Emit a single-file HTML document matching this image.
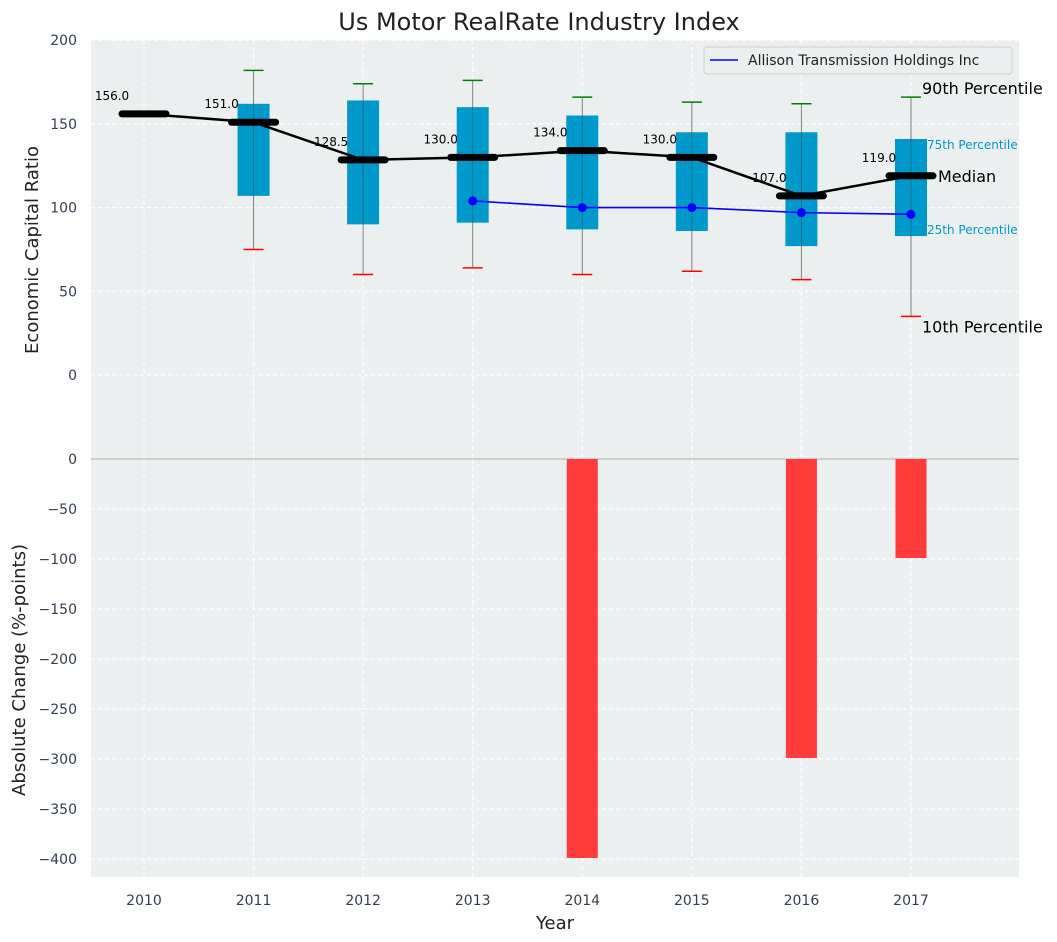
<!DOCTYPE html>
<html><head><meta charset="utf-8"><style>
body{margin:0;background:#fff;}
svg{display:block;font-family:"DejaVu Sans","Liberation Sans",sans-serif;}
</style></head><body>
<svg id="c" width="1057" height="942"></svg>
<script>
const years=[2010,2011,2012,2013,2014,2015,2016,2017];
const medians=[156,151,128.5,130,134,130,107,119];
const q1=[null,107,90,91,87,86,77,83];
const q3=[null,162,164,160,155,145,145,141];
const p10=[null,75,60,64,60,62,57,35];
const p90=[null,182,174,176,166,163,162,166];
const compYears=[2013,2014,2015,2016,2017];
const compVals=[104,100,100,97,96];
const changeYears=[2014,2016,2017];
const changeVals=[-399,-299,-99];
const topTicks=[0,50,100,150,200];
const botTicks=[0,-50,-100,-150,-200,-250,-300,-350,-400];

const NS="http://www.w3.org/2000/svg";
const svg=document.getElementById('c');
const L=91,R=1019,T=40,M=459,B=877;
const x=v=>144+(v-2010)*109.57;
const yT=v=>375-(v)*1.674;
const yB=v=>459-v*1.0;
function el(tag,at,name,txt){const e=document.createElementNS(NS,tag);for(const k in at)e.setAttribute(k,at[k]);


if(txt!=null)e.textContent=txt;svg.appendChild(e);return e;}
el('rect',{x:L,y:T,width:R-L,height:M-T,fill:'#eceff0'},'top-plot-bg');
el('rect',{x:L,y:M,width:R-L,height:B-M,fill:'#eceff0'},'bottom-plot-bg');
years.forEach(yr=>{el('line',{x1:x(yr),x2:x(yr),y1:T,y2:B,stroke:'#fff','stroke-dasharray':'4,3','stroke-width':1},'x-grid');});
topTicks.forEach(t=>{el('line',{x1:L,x2:R,y1:yT(t),y2:yT(t),stroke:'#fff','stroke-dasharray':'4,3'},'y-grid-top');
el('text',{x:L-14,y:yT(t)+5,'text-anchor':'end','font-size':14,fill:'#333f4f'},'y-tick-top',String(t));});
botTicks.forEach(t=>{if(t!==0)el('line',{x1:L,x2:R,y1:yB(t),y2:yB(t),stroke:'#fff','stroke-dasharray':'4,3'},'y-grid-bottom');
el('text',{x:L-14,y:yB(t)+5,'text-anchor':'end','font-size':14,fill:'#333f4f'},'y-tick-bottom',t<0?'\u2212'+(-t):String(t));});
el('line',{x1:L,x2:R,y1:M,y2:M,stroke:'#b0b0b0','stroke-width':1},'zero-line');
years.forEach(yr=>el('text',{x:x(yr),y:905,'text-anchor':'middle','font-size':14,fill:'#333f4f'},'x-tick',String(yr)));
years.forEach((yr,i)=>{if(q1[i]==null)return;const cx=x(yr);
el('line',{x1:cx,x2:cx,y1:yT(p90[i]),y2:yT(p10[i]),stroke:'#808080','stroke-width':1},'whisker');
el('rect',{x:cx-16,y:yT(q3[i]),width:32,height:yT(q1[i])-yT(q3[i]),fill:'#0099cc'},'box-'+yr);
el('line',{x1:cx,x2:cx,y1:yT(q3[i]),y2:yT(q1[i]),stroke:'#444','stroke-width':1,opacity:0.5},'box-whisker');
el('line',{x1:cx-10,x2:cx+10,y1:yT(p90[i]),y2:yT(p90[i]),stroke:'green','stroke-width':1.5},'p90-cap');
el('line',{x1:cx-10,x2:cx+10,y1:yT(p10[i]),y2:yT(p10[i]),stroke:'red','stroke-width':1.5},'p10-cap');});
el('polyline',{points:years.map((yr,i)=>x(yr)+','+yT(medians[i])).join(' '),fill:'none',stroke:'#000','stroke-width':2.5},'median-line');
years.forEach((yr,i)=>{el('line',{x1:x(yr)-22,x2:x(yr)+22,y1:yT(medians[i]),y2:yT(medians[i]),stroke:'#000','stroke-width':7,'stroke-linecap':'round'},'median-marker');
el('text',{x:x(yr)-32,y:yT(medians[i])-14,'text-anchor':'middle','font-size':12,fill:'#000'},'median-label',medians[i].toFixed(1));});
el('polyline',{points:compYears.map((yr,i)=>x(yr)+','+yT(compVals[i])).join(' '),fill:'none',stroke:'blue','stroke-width':1.6},'company-line');
compYears.forEach((yr,i)=>el('circle',{cx:x(yr),cy:yT(compVals[i]),r:4.5,fill:'blue'},'company-point'));
changeYears.forEach((yr,i)=>{const y0=yB(0),y1=yB(changeVals[i]);el('rect',{x:x(yr)-15.5,y:Math.min(y0,y1),width:31,height:Math.abs(y1-y0),fill:'#ff3b3b'},'change-bar-'+yr);});
const ax=x(2017);
el('text',{x:ax+11,y:yT(166)-3,'font-size':16,fill:'#000'},'p90-annotation','90th Percentile');
el('text',{x:ax+16,y:yT(141)+10,'font-size':12,fill:'#0099cc'},'q3-annotation','75th Percentile');
el('text',{x:ax+27,y:yT(119)+6,'font-size':16,fill:'#000'},'median-annotation','Median');
el('text',{x:ax+16,y:yT(83)-2,'font-size':12,fill:'#0099cc'},'q1-annotation','25th Percentile');
el('text',{x:ax+11,y:yT(35)+16,'font-size':16,fill:'#000'},'p10-annotation','10th Percentile');
el('rect',{x:704,y:47,width:308,height:27,rx:3,fill:'#eceff0',stroke:'#d0d0d0'},'legend');
el('line',{x1:710,x2:738,y1:60,y2:60,stroke:'blue','stroke-width':1.6},'legend-swatch');
el('text',{x:748,y:65,'font-size':14,fill:'#222'},'legend-label','Allison Transmission Holdings Inc');
el('text',{x:539,y:30,'text-anchor':'middle','font-size':24,fill:'#222'},'chart-title','Us Motor RealRate Industry Index');
el('text',{x:555,y:929,'text-anchor':'middle','font-size':18,fill:'#222'},'x-axis-title','Year');
el('text',{x:38,y:250,'text-anchor':'middle','font-size':18,fill:'#222',transform:'rotate(-90 38 250)'},'y-axis-title-top','Economic Capital Ratio');
el('text',{x:25,y:670,'text-anchor':'middle','font-size':18,fill:'#222',transform:'rotate(-90 25 670)'},'y-axis-title-bottom','Absolute Change (%-points)');
</script>
</body></html>
